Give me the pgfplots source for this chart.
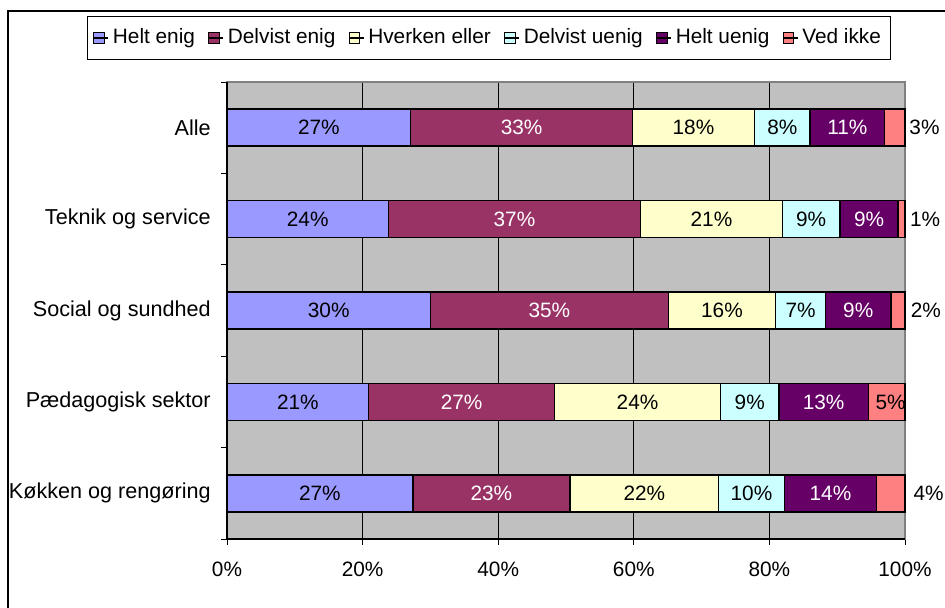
\documentclass[border=0pt]{standalone}
\usepackage{fontspec}
\setmainfont{Liberation Sans}
\usepackage{pgfplots}
\pgfplotsset{compat=1.18}
\usepackage{pgfplotstable}

\definecolor{c1}{HTML}{9999FF}
\definecolor{c2}{HTML}{993366}
\definecolor{c3}{HTML}{FFFFCC}
\definecolor{c4}{HTML}{CCFFFF}
\definecolor{c5}{HTML}{660066}
\definecolor{c6}{HTML}{FF8080}
\definecolor{plotbg}{HTML}{C0C0C0}
\definecolor{boxgray}{HTML}{808080}

% segment widths, printed labels, x of the "Ved ikke" label
\pgfplotstableread{
y  a     b     c     d    e     f    la lb lc ld le lf lx
0  27.1  32.7  18.0  8.2  11.0  3.0  27 33 18 8  11 3  100.6
1  23.8  37.2  20.9  8.5  8.6   1.0  24 37 21 9  9  1  100.7
2  30.0  35.1  15.8  7.4  9.6   2.1  30 35 16 7  9  2  100.8
3  20.9  27.4  24.5  8.6  13.2  5.4  21 27 24 9  13 5  95.6
4  27.4  23.2  21.9  9.7  13.6  4.2  27 23 22 10 14 4  101.2
}\data
% label centres of the segments
\pgfplotstablecreatecol[create col/expr={\thisrow{a}/2}]{ma}\data
\pgfplotstablecreatecol[create col/expr={\thisrow{a}+\thisrow{b}/2}]{mb}\data
\pgfplotstablecreatecol[create col/expr={\thisrow{a}+\thisrow{b}+\thisrow{c}/2}]{mc}\data
\pgfplotstablecreatecol[create col/expr={\thisrow{a}+\thisrow{b}+\thisrow{c}+\thisrow{d}/2}]{md}\data
\pgfplotstablecreatecol[create col/expr={\thisrow{a}+\thisrow{b}+\thisrow{c}+\thisrow{d}+\thisrow{e}/2}]{me}\data

\pgfplotsset{
  seg/.style={draw=black, line width=0.75pt,
    legend image code/.code={\draw[##1, line width=0.5pt] (0pt,-2.6pt) rectangle (5.2pt,2.6pt);
      \path (0pt,0pt) -- (7.2pt,0pt);}},
  frame/.style={at={(113.5pt,34pt)}, anchor=south west,
    scale only axis, width=339pt, height=228.5pt,
    xmin=0, xmax=100, ymin=-0.5, ymax=4.5, y dir=reverse},
  lab/.style={only marks, mark=*, mark size=0pt, mark options={draw=none, fill=none}},
}

\begin{document}
\fontsize{10.4}{12}\selectfont
\begin{tikzpicture}
\path[use as bounding box] (0,0) rectangle (472.5pt,303.5pt);
\begin{axis}[
  frame,
  xbar stacked, bar width=0.405,
  clip=false,
  axis background/.style={fill=plotbg},
  axis line style={boxgray, line width=0.6pt},
  xtick={0,20,...,100},
  xticklabels={0\%,20\%,40\%,60\%,80\%,100\%},
  ytick={0,...,4},
  yticklabels={Alle,Teknik og service,Social og sundhed,Pædagogisk sektor,Køkken og rengøring},
  minor ytick={-0.5,0.5,...,4.5},
  xmajorgrids, major grid style={black, line width=0.5pt},
  tick align=outside, xtick pos=bottom, ytick pos=left,
  major tick length=3pt, minor tick length=3pt,
  every major y tick/.style={draw=none},
  tick style={black, line width=0.5pt},
  xticklabel style={yshift=-5pt},
  yticklabel style={xshift=-1.5pt, font=\fontsize{10.8}{12}\selectfont},
  legend columns=6,
  legend style={at={(0.3864,1.0963)}, anchor=center, draw=black, line width=0.5pt,
    inner xsep=3pt, inner ysep=4pt,
    /tikz/every even column/.append style={column sep=4.5pt}},
]
\addplot[seg, fill=c1] table[x=a, y=y]{\data};
\addplot[seg, fill=c2] table[x=b, y=y]{\data};
\addplot[seg, fill=c3] table[x=c, y=y]{\data};
\addplot[seg, fill=c4] table[x=d, y=y]{\data};
\addplot[seg, fill=c5] table[x=e, y=y]{\data};
\addplot[seg, fill=c6] table[x=f, y=y]{\data};
\legend{Helt enig,Delvist enig,Hverken eller,Delvist uenig,Helt uenig,Ved ikke}
\draw[black, line width=0.6pt] (axis cs:0,-0.5) -- (axis cs:0,4.5) -- (axis cs:100,4.5);
\end{axis}
% value labels, on an axis of the same size
\begin{axis}[
  frame, hide axis, clip=false,
  point meta=explicit symbolic,
  nodes near coords={\pgfplotspointmeta\%},
  nodes near coords align={center},
]
\addplot[lab] table[x=ma, y=y, meta=la]{\data};
\addplot[lab, every node near coord/.append style={text=white}] table[x=mb, y=y, meta=lb]{\data};
\addplot[lab] table[x=mc, y=y, meta=lc]{\data};
\addplot[lab] table[x=md, y=y, meta=ld]{\data};
\addplot[lab, every node near coord/.append style={text=white}] table[x=me, y=y, meta=le]{\data};
\addplot[lab, nodes near coords align={west}, every node near coord/.append style={inner xsep=0pt}]
  table[x=lx, y=y, meta=lf]{\data};
\end{axis}
\draw[line width=0.8pt] (4pt,-2pt) -- (4pt,298pt) -- (476pt,298pt);
\end{tikzpicture}
\end{document}
